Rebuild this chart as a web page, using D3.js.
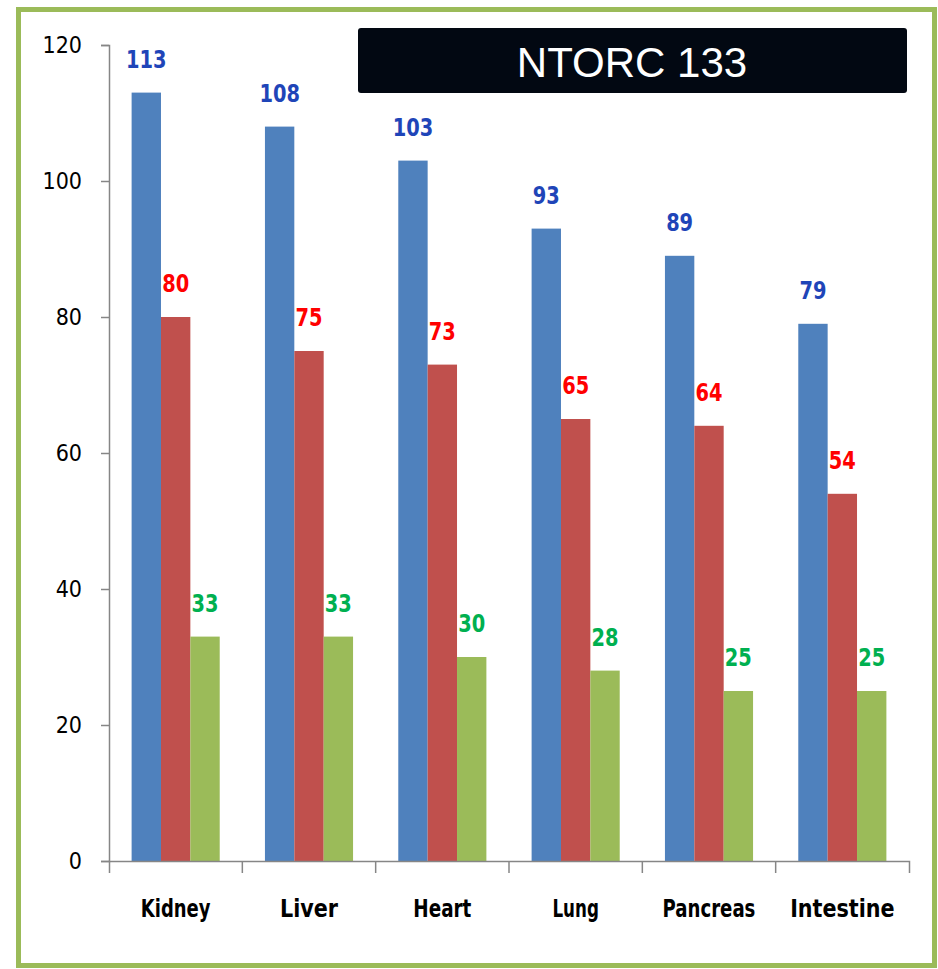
<!DOCTYPE html>
<html>
<head>
<meta charset="utf-8">
<script src="https://cdn.jsdelivr.net/npm/d3@7"></script>
<style>
  body { margin: 0; background: #fff; }
  svg { display: block; }
  .axis text { font-family: "Liberation Sans Narrow", "DejaVu Sans Condensed", sans-serif; fill: #000; }
</style>
</head>
<body>
<svg id="chart" width="938" height="969"></svg>
<script>
const organs = ['Kidney', 'Liver', 'Heart', 'Lung', 'Pancreas', 'Intestine'];
const seriesNames = ['s1', 's2', 's3'];
const blueValues = [113, 108, 103, 93, 89, 79];
const redValues = [80, 75, 73, 65, 64, 54];
const greenValues = [33, 33, 30, 28, 25, 25];
const yTicks = [0, 20, 40, 60, 80, 100, 120];
const title = 'NTORC 133';

const barColors = ['#4F81BD', '#C0504D', '#9BBB59'];
const labelColors = ['#1F45B8', '#FF0000', '#00B050'];

const svg = d3.select('#chart');
const margin = {left: 109, right: 29, top: 45, bottom: 108};
const W = 938, H = 969;

// green frame
svg.append('rect')
  .attr('x', 18.5).attr('y', 9.5)
  .attr('width', 916).attr('height', 956)
  .attr('fill', 'none')
  .attr('stroke', '#9BBB59')
  .attr('stroke-width', 5);

const table = organs.map((o, i) => ({
  organ: o,
  vals: [blueValues[i], redValues[i], greenValues[i]]
}));

const x0 = d3.scaleBand().domain(organs).range([margin.left, W - margin.right]).padding(0);
const x1 = d3.scaleBand().domain(seriesNames).range([0, x0.bandwidth()]).paddingInner(0).paddingOuter(0.77);
const y = d3.scaleLinear().domain([0, 120]).range([H - margin.bottom, margin.top]);

const g = svg.append('g');

const groups = g.selectAll('.grp')
  .data(table)
  .enter()
  .append('g')
  .attr('class', 'grp')
  .attr('transform', d => `translate(${x0(d.organ)},0)`);

groups.selectAll('rect')
  .data(d => d.vals.map((v, k) => ({v: v, k: k})))
  .enter()
  .append('rect')
  .attr('x', d => x1(seriesNames[d.k]))
  .attr('y', d => y(d.v))
  .attr('width', x1.bandwidth())
  .attr('height', d => y(0) - y(d.v))
  .attr('fill', d => barColors[d.k]);

groups.selectAll('text')
  .data(d => d.vals.map((v, k) => ({v: v, k: k})))
  .enter()
  .append('text')
  .attr('x', d => x1(seriesNames[d.k]) + x1.bandwidth() / 2)
  .attr('y', d => y(d.v) - 25)
  .attr('text-anchor', 'middle')
  .attr('font-family', '"Liberation Sans Narrow", "DejaVu Sans Condensed", sans-serif')
  .attr('font-weight', 'bold')
  .attr('font-size', 25)
  .attr('textLength', d => String(d.v).length * 13.5)
  .attr('lengthAdjust', 'spacingAndGlyphs')
  .attr('fill', d => labelColors[d.k])
  .text(d => d.v);

// y axis
const yAxis = d3.axisLeft(y).tickValues(yTicks).tickSize(8).tickSizeOuter(8).tickPadding(19);
g.append('g')
  .attr('class', 'axis')
  .attr('transform', `translate(${margin.left},0)`)
  .call(yAxis)
  .call(a => a.selectAll('text').attr('font-size', 23))
  .call(a => a.selectAll('line, path').attr('stroke', '#868686').attr('stroke-width', 1.5));

// x axis with ticks between categories
const xAxis = d3.axisBottom(x0).tickSize(0).tickSizeOuter(12).tickPadding(38);
const xg = g.append('g')
  .attr('class', 'axis')
  .attr('transform', `translate(0,${y(0)})`)
  .call(xAxis);
xg.selectAll('text').attr('font-size', 25).attr('font-weight', 'bold')
  .attr('textLength', d => d.length * 11.6)
  .attr('lengthAdjust', 'spacingAndGlyphs');
xg.select('.domain').attr('stroke', '#868686').attr('stroke-width', 1.5);
xg.selectAll('.sep')
  .data(organs.slice(1))
  .enter()
  .append('line')
  .attr('class', 'sep')
  .attr('x1', d => x0(d)).attr('x2', d => x0(d))
  .attr('y1', 0).attr('y2', 12)
  .attr('stroke', '#868686').attr('stroke-width', 1.5);

// title box
svg.append('rect')
  .attr('x', 358).attr('y', 28)
  .attr('width', 549).attr('height', 65)
  .attr('rx', 3)
  .attr('fill', '#020812');
svg.append('text')
  .attr('x', 632).attr('y', 77)
  .attr('text-anchor', 'middle')
  .attr('font-family', '"Liberation Sans", Arial, sans-serif')
  .attr('font-size', 42)
  .attr('fill', '#fff')
  .text(title);
</script>
</body>
</html>
